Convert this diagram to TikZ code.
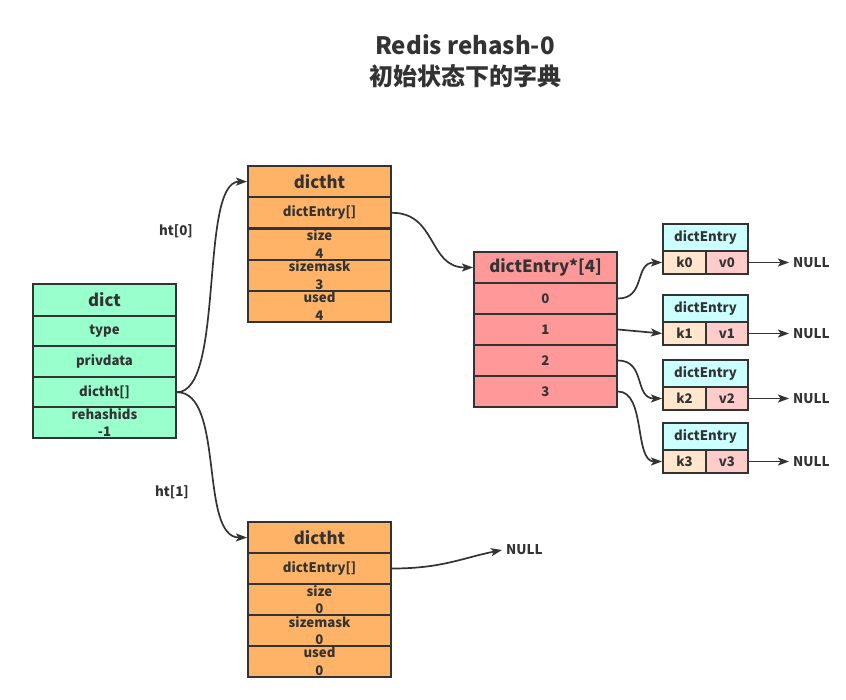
\documentclass[tikz,border=0pt]{standalone}
\usepackage{fontspec}
\setmainfont{Noto Sans CJK SC}
\usetikzlibrary{arrows.meta,positioning}
\definecolor{dictgreen}{RGB}{153,255,204}
\definecolor{htorange}{RGB}{255,179,102}
\definecolor{tblred}{RGB}{255,153,153}
\definecolor{entcyan}{RGB}{204,255,255}
\definecolor{keybeige}{RGB}{255,230,204}
\definecolor{valpink}{RGB}{255,204,204}
\definecolor{inkgray}{RGB}{51,51,51}

\begin{document}
\begin{tikzpicture}[x=1pt, y=-1pt,
			cell/.style={rectangle, draw=inkgray, line width=2pt, text=inkgray,
				minimum width=143pt, minimum height=31pt, inner sep=0pt, align=center,
				font=\bfseries\fontsize{13.2}{17.5}\selectfont},
			head/.style={cell, font=\bfseries\fontsize{16.8}{18}\selectfont},
			dictcell/.style={cell, fill=dictgreen},
			htcell/.style={cell, fill=htorange},
			bktcell/.style={cell, fill=tblred},
			ent/.style={cell, minimum height=27pt, minimum width=85pt, fill=entcyan},
			kcell/.style={cell, minimum height=23pt, minimum width=43pt, fill=keybeige},
			vcell/.style={cell, minimum height=23pt, minimum width=42pt, fill=valpink},
			lbl/.style={text=inkgray, inner sep=4pt, font=\bfseries\fontsize{13.4}{15}\selectfont},
			arr/.style={-{Stealth[length=11pt, width=8pt, inset=2.5pt]}, line width=1.7pt, draw=inkgray}]
			\useasboundingbox (0,0) rectangle (846,699);
			
			% Title
			\node[text=inkgray, align=center, font=\bfseries\fontsize{24}{31}\selectfont] (title) at (465,61) {Redis rehash-0\\初始状态下的字典};
			
			% dict
			\node[head, fill=dictgreen, minimum height=31.8pt] (d0) at (104.5,300) {dict};
			\foreach \t [count=\i] in {type, privdata, dictht[], {rehashids\\-1}}
				\node[dictcell, minimum height=30.5pt] (d\i) at (104.5,{331.2+30.5*(\i-1)}) {\t};
			
			% dictht 0
			\node[head, fill=htorange] (a0) at (319.5,181.6) {dictht};
			\foreach \t [count=\i] in {dictEntry[], {size\\4}, {sizemask\\3}, {used\\4}}
				\node[htcell] (a\i) at (319.5,{181.6+31.2*\i}) {\t};
			
			% dictht 1
			\node[head, fill=htorange] (b0) at (319.5,537.5) {dictht};
			\foreach \t [count=\i] in {dictEntry[], {size\\0}, {sizemask\\0}, {used\\0}}
				\node[htcell] (b\i) at (319.5,{537.5+31*\i}) {\t};
			
			% dictEntry*[4]
			\node[head, fill=tblred] (t0) at (545.5,267.5) {dictEntry*[4]};
			\foreach \i in {0,...,3}
				\node[bktcell] (s\i) at (545.5,{298.5+31*\i}) {\i};
			
			% entries
			\foreach \i/\y in {0/224, 1/295, 2/360, 3/423} {
				\node[ent] (e\i) at (705.5,\y+13.5) {dictEntry};
				\node[kcell] (k\i) at (684.5,\y+38.5) {k\i};
				\node[vcell] (v\i) at (727,\y+38.5) {v\i};
				\node[lbl, anchor=west] (n\i) at (789,\y+38.5) {NULL};
			}
			\node[lbl, anchor=west] (nb) at (502,550) {NULL};
			
			% labels
			\node[lbl] (ht0) at (176,231) {ht[0]};
			\node[lbl] (ht1) at (172,492) {ht[1]};
			
			% Arrows
			\draw[arr] (d3.east) .. controls +(48,0) and +(-48,0) .. (a0.west);
			\draw[arr] (d3.east) .. controls +(48,0) and +(-48,0) .. (b0.west);
			\draw[arr] (a1.east) .. controls +(45,0) and +(-45,0) .. (t0.west);
			\draw[arr] (b1.east) .. controls +(50,0) and +(-40,8) .. (nb.west);
			\draw[arr] (s0.east) .. controls +(28,0) and +(-28,0) .. (k0.west);
			\draw[arr] (s1.east) -- (k1.west);
			\draw[arr] (s2.east) .. controls +(28,0) and +(-28,0) .. (k2.west);
			\draw[arr] (s3.east) .. controls +(28,0) and +(-28,0) .. (k3.west);
			\foreach \i in {0,...,3}
				\draw[arr] (v\i.east) -- (n\i.west);
		\end{tikzpicture}
\end{document}
